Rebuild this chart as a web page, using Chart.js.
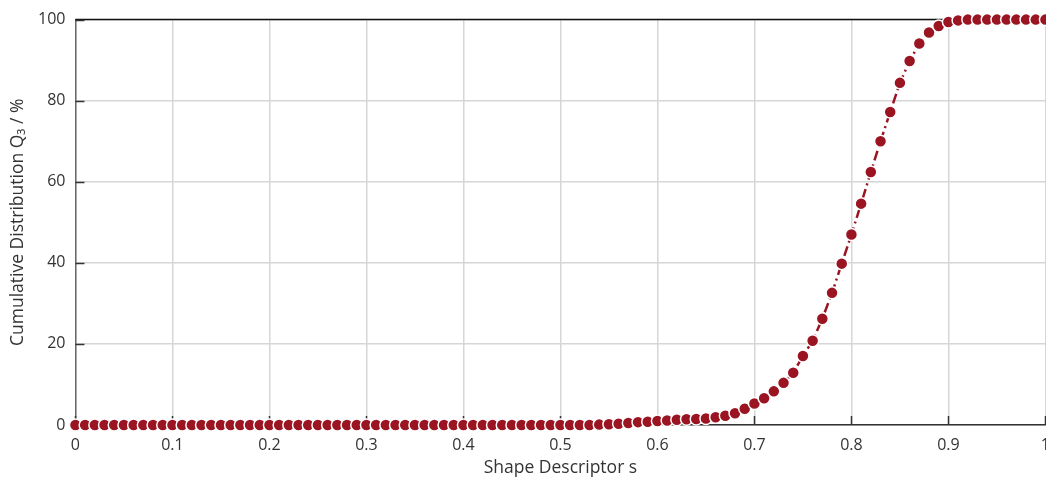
<!DOCTYPE html>
<html>
<head>
<meta charset="utf-8">
<script src="https://cdn.jsdelivr.net/npm/chart.js@4/dist/chart.umd.min.js"></script>
<style>
  html, body { margin: 0; padding: 0; background: #fff; overflow: hidden; }
  #wrap { width: 1046px; height: 479px; overflow: hidden; position: relative; }
  #chart { display: block; }
</style>
</head>
<body>
<div id="wrap"><canvas id="chart" width="1062" height="479"></canvas></div>
<script>
// Shape descriptor classes (x) and cumulative volume distribution Q3 in % (y)
const shapeS = [
  0.00, 0.01, 0.02, 0.03, 0.04, 0.05, 0.06, 0.07, 0.08, 0.09,
  0.10, 0.11, 0.12, 0.13, 0.14, 0.15, 0.16, 0.17, 0.18, 0.19,
  0.20, 0.21, 0.22, 0.23, 0.24, 0.25, 0.26, 0.27, 0.28, 0.29,
  0.30, 0.31, 0.32, 0.33, 0.34, 0.35, 0.36, 0.37, 0.38, 0.39,
  0.40, 0.41, 0.42, 0.43, 0.44, 0.45, 0.46, 0.47, 0.48, 0.49,
  0.50, 0.51, 0.52, 0.53, 0.54, 0.55, 0.56, 0.57, 0.58, 0.59,
  0.60, 0.61, 0.62, 0.63, 0.64, 0.65, 0.66, 0.67, 0.68, 0.69,
  0.70, 0.71, 0.72, 0.73, 0.74, 0.75, 0.76, 0.77, 0.78, 0.79,
  0.80, 0.81, 0.82, 0.83, 0.84, 0.85, 0.86, 0.87, 0.88, 0.89,
  0.90, 0.91, 0.92, 0.93, 0.94, 0.95, 0.96, 0.97, 0.98, 0.99,
  1.00
];
const q3Percent = [
  0, 0, 0, 0, 0, 0, 0, 0, 0, 0,
  0, 0, 0, 0, 0, 0, 0, 0, 0, 0,
  0, 0, 0, 0, 0, 0, 0, 0, 0, 0,
  0, 0, 0, 0, 0, 0, 0, 0, 0, 0,
  0, 0, 0, 0, 0, 0, 0, 0, 0, 0,
  0, 0, 0, 0, 0.1, 0.2, 0.3, 0.5, 0.7, 0.8,
  1.0, 1.1, 1.3, 1.4, 1.5, 1.6, 1.9, 2.3, 2.9, 4.0,
  5.3, 6.6, 8.3, 10.4, 12.9, 17.0, 20.8, 26.2, 32.6, 39.8,
  47.0, 54.6, 62.4, 70.0, 77.2, 84.4, 89.8, 94.1, 96.8, 98.4,
  99.4, 99.8, 100, 100, 100, 100, 100, 100, 100, 100,
  100
];
const xTickLabels = ['0', '0.1', '0.2', '0.3', '0.4', '0.5', '0.6', '0.7', '0.8', '0.9', '1'];
const yTickLabels = ['0', '20', '40', '60', '80', '100'];

const points = shapeS.map((s, i) => ({ x: s, y: q3Percent[i] }));

const textColor = '#333333';
const fontFamily = '"Open Sans", "Noto Sans", sans-serif';

// Frame line on top and short inward tick marks, drawn beneath the data
const framePlugin = {
  id: 'frame',
  beforeDatasetsDraw(chart) {
    const { ctx, chartArea, scales } = chart;
    ctx.save();
    ctx.strokeStyle = '#111';
    ctx.lineWidth = 1.5;
    ctx.beginPath();
    ctx.moveTo(chartArea.left, chartArea.top);
    ctx.lineTo(chartArea.right, chartArea.top);
    ctx.stroke();

    ctx.strokeStyle = '#333';
    ctx.lineWidth = 1.5;
    const len = 9;
    scales.x.ticks.forEach(t => {
      const px = Math.round(scales.x.getPixelForValue(t.value)) + 0.5;
      ctx.beginPath();
      ctx.moveTo(px, chartArea.bottom);
      ctx.lineTo(px, chartArea.bottom - len);
      ctx.stroke();
    });
    scales.y.ticks.forEach(t => {
      const py = Math.round(scales.y.getPixelForValue(t.value)) + 0.5;
      ctx.beginPath();
      ctx.moveTo(chartArea.left, py);
      ctx.lineTo(chartArea.left + len, py);
      ctx.stroke();
    });
    ctx.restore();
  }
};

new Chart(document.getElementById('chart'), {
  type: 'scatter',
  data: {
    datasets: [{
      data: points,
      showLine: true,
      borderColor: '#9b1422',
      borderWidth: 2.5,
      borderDash: [10, 4, 2, 4],
      pointRadius: 6,
      pointHoverRadius: 6,
      pointBackgroundColor: '#9b1422',
      pointBorderColor: '#ffffff',
      pointBorderWidth: 1.5,
      clip: false
    }]
  },
  options: {
    responsive: false,
    maintainAspectRatio: false,
    devicePixelRatio: 1,
    animation: false,
    events: [],
    layout: { padding: { top: 18, left: 9, right: 0, bottom: 2.5 } },
    plugins: {
      legend: { display: false },
      tooltip: { enabled: false }
    },
    scales: {
      x: {
        type: 'linear',
        min: 0,
        max: 1,
        ticks: {
          stepSize: 0.1,
          padding: 12,
          maxRotation: 0,
          color: textColor,
          font: { family: fontFamily, size: 16, lineHeight: 1 },
          callback: (v, i) => xTickLabels[i]
        },
        grid: { color: '#d6d6d6', lineWidth: 1.5, drawTicks: false },
        border: { color: '#333', width: 1.5 },
        title: {
          display: true,
          text: 'Shape Descriptor s',
          color: textColor,
          font: { family: fontFamily, size: 17.5, lineHeight: 1 },
          padding: { top: -6, bottom: 0 }
        }
      },
      y: {
        min: 0,
        max: 100,
        ticks: {
          stepSize: 20,
          padding: 10,
          color: textColor,
          font: { family: fontFamily, size: 16 },
          callback: (v, i) => yTickLabels[i]
        },
        grid: { color: '#d6d6d6', lineWidth: 1.5, drawTicks: false },
        border: { color: '#6a6a6a', width: 1.5 },
        title: {
          display: true,
          text: 'Cumulative Distribution Q₃ / %',
          color: textColor,
          font: { family: fontFamily, size: 17.5, lineHeight: 1 },
          padding: { top: 0, bottom: 1.5 }
        }
      }
    }
  },
  plugins: [framePlugin]
});
</script>
</body>
</html>
